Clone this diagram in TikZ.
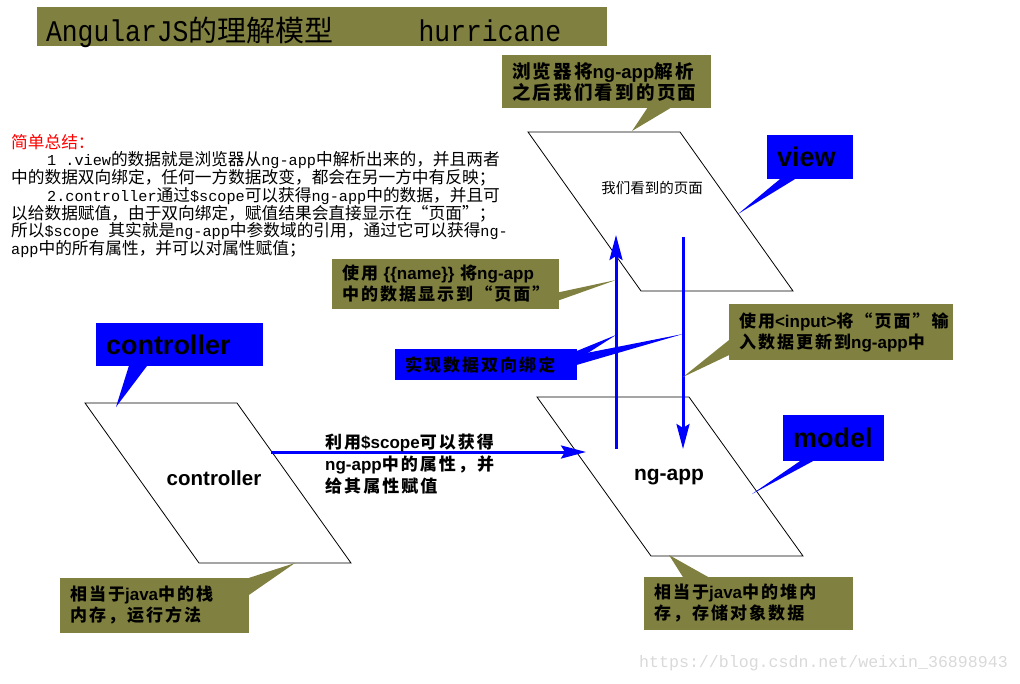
\documentclass[tikz,border=0pt]{standalone}
\usepackage{fontspec}
\setmainfont{Liberation Sans}
\newfontfamily\cjk{Noto Sans CJK SC}[LetterSpace=12]
\newfontfamily\song{Noto Sans CJK SC}
\newfontfamily\mono{Liberation Mono}
\newfontfamily\monotall{Liberation Mono}[FakeStretch=0.88]
\usetikzlibrary{arrows.meta}
\definecolor{olivebox}{RGB}{128,128,64}
\newcommand{\en}[1]{{\normalfont\bfseries #1}}
\newcommand{\lat}[1]{{\mono\fontsize{15.2}{17.2}\selectfont #1}}

\begin{document}
\begin{tikzpicture}[x=1pt,y=-1pt]
    \tikzstyle{note}=[rectangle, fill=olivebox, align=left,
        inner xsep=10pt, inner ysep=0pt,
        font=\cjk\bfseries\fontsize{17}{21}\selectfont]
    \tikzstyle{tag}=[rectangle, fill=blue, align=left,
        inner xsep=10pt, inner ysep=0pt,
        font=\bfseries\fontsize{27}{28}\selectfont]
    \tikzstyle{para}=[draw, line width=0.8pt, fill=white]
    \tikzstyle{flow}=[draw=blue, line width=3pt,
        -{Stealth[length=25pt,width=13pt,inset=4pt]}]

    \useasboundingbox (0,0) rectangle (1020,683);

    % title and summary
    \node[fill=olivebox, minimum height=39pt, text width=552pt, align=left,
        text height=31pt, text depth=2pt,
        inner xsep=9pt, inner ysep=0pt, font=\monotall\fontsize{30}{32}\selectfont]
        (title) at (322,26.5) {AngularJS{\song\fontsize{29}{32}\selectfont 的理解模型}\hspace{85pt}hurricane};
    \node[anchor=north west, align=left, inner sep=0pt,
        font=\song\fontsize{16.7}{17.2}\selectfont] (summary) at (11,134) {%
        \textcolor{red}{简单总结：}\\
        \hspace*{36pt}\lat{1 .view}的数据就是浏览器从\lat{ng-app}中解析出来的，并且两者\\
        中的数据双向绑定，任何一方数据改变，都会在另一方中有反映；\\
        \hspace*{36pt}\lat{2.controller}通过\lat{\$scope}可以获得\lat{ng-app}中的数据，并且可\\
        以给数据赋值，由于双向绑定，赋值结果会直接显示在“页面”；\\
        所以\lat{\$scope }其实就是\lat{ng-app}中参数域的引用，通过它可以获得\lat{ng-}\\
        \lat{app}中的所有属性，并可以对属性赋值；};

    % the three parts
    \draw[para] (85,403) -- (237,403) -- (351,563) -- (199,563) -- cycle;
    \draw[para] (528,132) -- (680,132) -- (793,291) -- (641,291) -- cycle;
    \draw[para] (537,397) -- (689,397) -- (803,556) -- (651,556) -- cycle;
    \node[font=\bfseries\fontsize{20.5}{24}\selectfont] (ctrltext) at (214,478) {controller};
    \node[font=\song\fontsize{14.5}{16}\selectfont] (viewtext) at (652,188) {我们看到的页面};
    \node[font=\bfseries\fontsize{21}{24}\selectfont] (apptext) at (669,477) {ng-app};

    % arrows
    \coordinate (ctrlside) at (271,452);
    \coordinate (appside) at (586,452);
    \coordinate (upfoot) at (616,449);
    \coordinate (uphead) at (616,235);
    \coordinate (downfoot) at (683,237);
    \coordinate (downhead) at (683,449);
    \draw[flow] (ctrlside) -- (appside);
    \draw[flow] (upfoot) -- (uphead);
    \draw[flow] (downfoot) -- (downhead);
    \node[anchor=west, align=left, inner sep=0pt,
        font=\cjk\bfseries\fontsize{17}{22}\selectfont] (scopetext) at (325,464)
        {利用\en{\$scope}可以获得\\\en{ng-app}中的属性，并\\给其属性赋值};

    % callouts
    \coordinate (viewtop) at (632,131);
    \coordinate (viewright) at (738,214);
    \coordinate (uptip) at (616,280);
    \coordinate (bindup) at (616,335);
    \coordinate (binddown) at (683,334);
    \coordinate (downtip) at (683,377);
    \coordinate (ctrltop) at (116,407);
    \coordinate (appright) at (752,494);
    \coordinate (ctrlbottom) at (295,563);
    \coordinate (appbottom) at (669,555);

    \node[note, minimum height=53pt, text width=189pt, font=\cjk\bfseries\fontsize{18.5}{21}\selectfont]
        (browser) at (606.5,81.5) {浏览器将\en{ng-app}解析\\之后我们看到的页面};
    \fill[olivebox] ([xshift=-64pt]browser.south east) -- (viewtop) -- ([xshift=-41pt]browser.south east) -- cycle;
    \node[tag, minimum height=44pt, text width=66pt] (view) at (810,157) {view};
    \fill[blue] ([xshift=13pt]view.south west) -- (viewright) -- ([xshift=28pt]view.south west) -- cycle;
    \node[note, minimum height=50pt, text width=207pt] (name) at (445.5,284)
        {使用 \en{\{\{name\}\}} 将\en{ng-app}\\中的数据显示到“页面”};
    \fill[olivebox] ([yshift=17pt]name.south east) -- (uptip) -- ([yshift=9pt]name.south east) -- cycle;
    \node[tag, minimum height=31pt, text width=162pt, font=\cjk\bfseries\fontsize{17}{21}\selectfont]
        (bind) at (486,364.5) {实现数据双向绑定};
    \fill[blue] ([yshift=-2pt]bind.north east) -- (bindup) -- ([yshift=-11pt]bind.north east) -- cycle;
    \fill[blue] ([yshift=-6pt]bind.north east) -- (binddown) -- ([yshift=-16pt]bind.north east) -- cycle;
    \node[note, minimum height=56pt, text width=204pt] (input) at (841,332)
        {使用\en{<input>}将“页面”输\\入数据更新到\en{ng-app}中};
    \fill[olivebox] ([yshift=20pt]input.south west) -- (downtip) -- ([yshift=5pt]input.south west) -- cycle;
    \node[tag, minimum height=43pt, text width=147pt] (controller) at (179.5,344.5) {controller};
    \fill[blue] ([xshift=33pt]controller.south west) -- (ctrltop) -- ([xshift=51pt]controller.south west) -- cycle;
    \node[tag, minimum height=46pt, text width=81pt] (model) at (833.5,438) {model};
    \fill[blue] ([xshift=17pt]model.south west) -- (appright) -- ([xshift=30pt]model.south west) -- cycle;
    \node[note, minimum height=55pt, text width=169pt] (stack) at (154.5,605.5)
        {相当于\en{java}中的栈\\内存，运行方法};
    \fill[olivebox] (stack.north east) -- (ctrlbottom) -- ([yshift=-17pt]stack.north east) -- cycle;
    \node[note, minimum height=53pt, text width=189pt] (heap) at (748.5,603.5)
        {相当于\en{java}中的堆内\\存，存储对象数据};
    \fill[olivebox] ([xshift=39pt]heap.north west) -- (appbottom) -- ([xshift=64pt]heap.north west) -- cycle;

    \node[anchor=west, inner sep=0pt, text=gray!30, font=\mono\fontsize{16.6}{18}\selectfont]
        (mark) at (639,663) {https://blog.csdn.net/weixin\_36898943};
\end{tikzpicture}
\end{document}
